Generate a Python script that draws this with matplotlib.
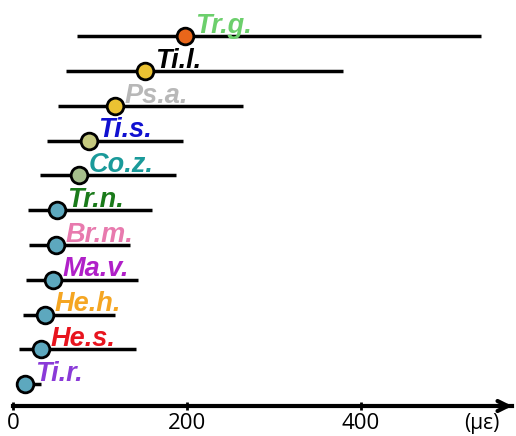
import matplotlib.pyplot as plt

# strain ranges per species, listed bottom row first
species = ["Ti.r.", "He.s.", "He.h.", "Ma.v.", "Br.m.", "Tr.n.",
           "Co.z.", "Ti.s.", "Ps.a.", "Ti.l.", "Tr.g."]
strain_min = [5, 7, 12, 15, 18, 17, 31, 39, 52, 61, 74]
strain_max = [32, 141, 117, 144, 134, 160, 187, 196, 264, 379, 538]
strain_mean = [14, 32, 37, 46, 49, 51, 76, 87, 117, 152, 198]
xticks = [0, 200, 400]

label_colors = ["#8a3ad8", "#e8141e", "#f5a623", "#b020c8", "#e87aae", "#1a7a1a",
                "#1a9a9a", "#1010d0", "#b8b8b8", "#000000", "#6ccf6c"]
dot_colors = ["#5da8be"] * 6 + ["#a6bf8c", "#c5c97f", "#ebc232", "#ebc232", "#e8661a"]

fig = plt.figure(figsize=(5.16, 4.36), dpi=100)
ax = fig.add_axes([0, 0, 1, 1])
ax.set_xlim(-14.9, 578.2)
ax.set_ylim(-1.496, 11.05)

rows = list(range(len(species)))
ax.hlines(rows, strain_min, strain_max, color="black", lw=2.5, zorder=2)
for i in rows:
    ax.plot(strain_mean[i], i, "o", ms=12, mfc=dot_colors[i], mec="black", mew=2, zorder=3)
    ax.annotate(species[i], (strain_mean[i], i), xytext=(7, 2.5), textcoords="offset points",
                fontsize=19.5, fontweight="bold", fontstyle="italic", family="Liberation Sans",
                color=label_colors[i], ha="left", va="baseline", zorder=4)

# strain axis with arrow head
y_axis = -0.633
for s in ["left", "right", "top"]:
    ax.spines[s].set_visible(False)
ax.spines["bottom"].set_position(("data", y_axis))
ax.spines["bottom"].set_bounds(0, 574)
ax.spines["bottom"].set_linewidth(3)
ax.annotate("", xy=(577, y_axis), xytext=(562, y_axis),
            arrowprops=dict(arrowstyle="->", lw=3, mutation_scale=18, color="black"))
ax.set_xticks(xticks)
ax.set_xticklabels([str(t) for t in xticks], fontsize=16, family="Open Sans")
ax.tick_params(axis="x", direction="inout", length=6, width=2, pad=2)
ax.set_yticks([])
ax.text(539, -1.15, "(με)", fontsize=15, family="Open Sans", ha="center", va="center")

fig.savefig("out.png", dpi=100)
